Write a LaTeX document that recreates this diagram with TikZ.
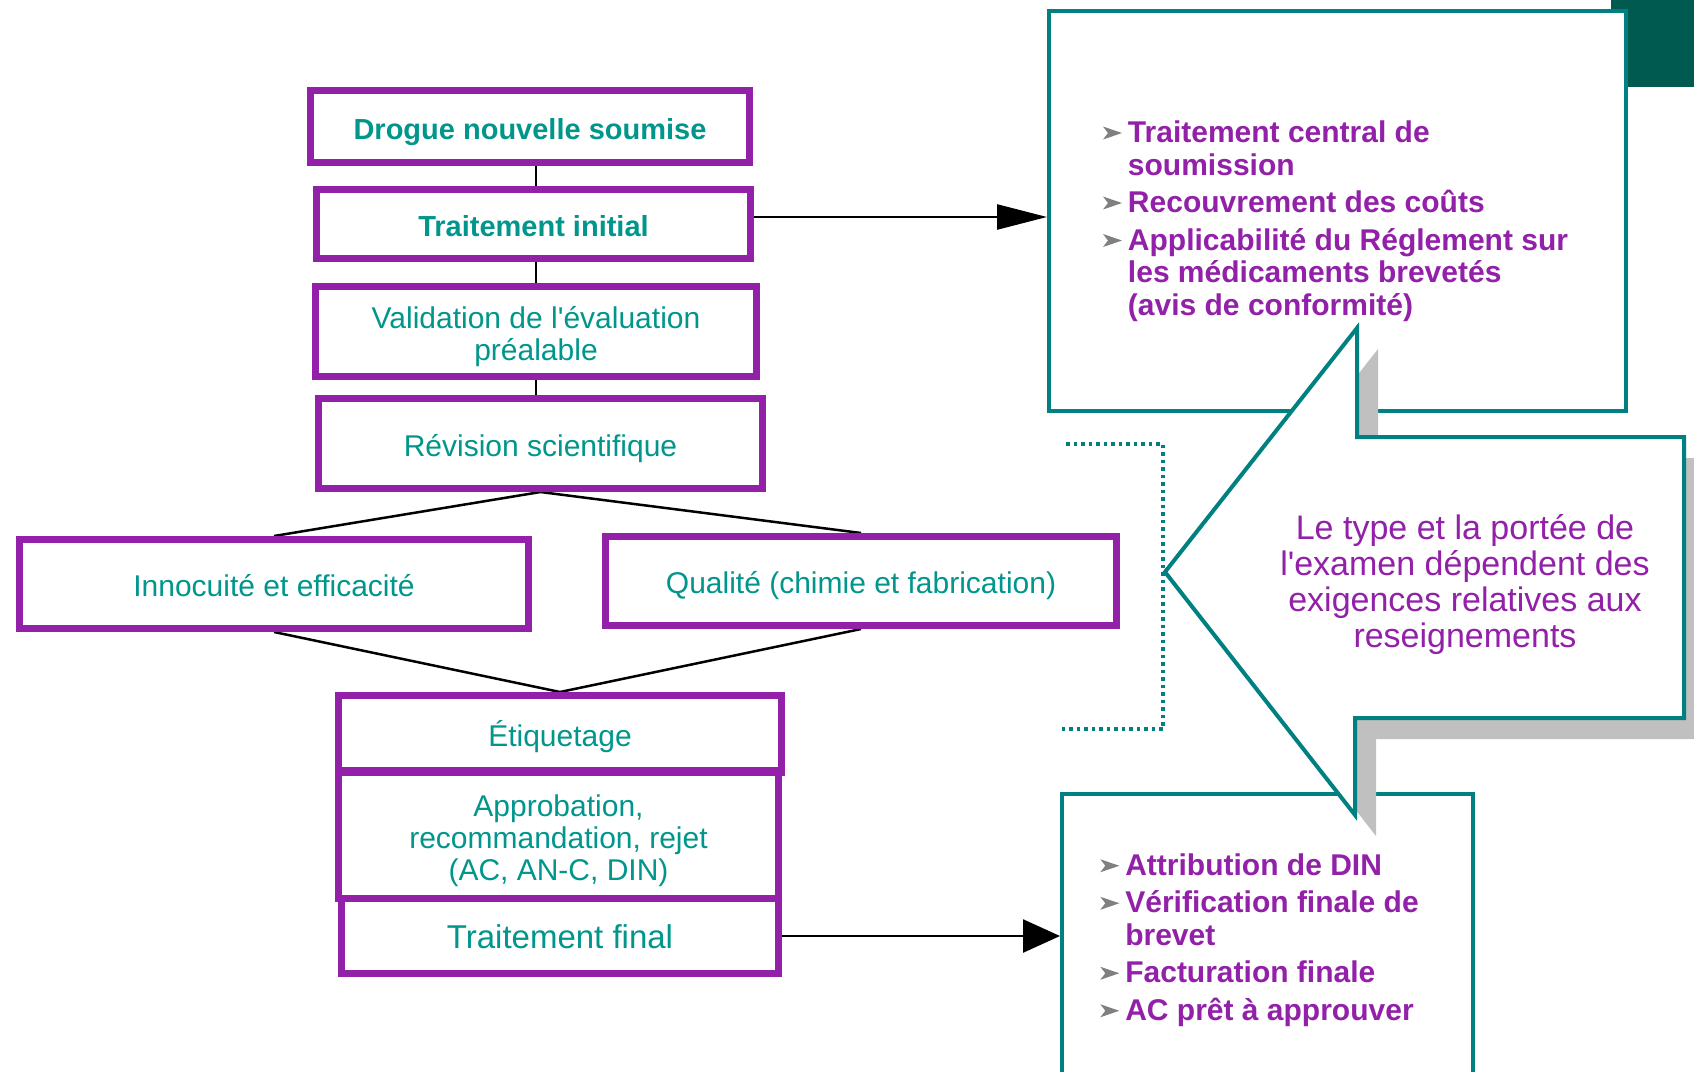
\documentclass[tikz,border=0pt]{standalone}
\usepackage{fontspec}
\setmainfont{Liberation Sans}[Ligatures=TeXOff]
\usetikzlibrary{arrows.meta, positioning, calc}

\definecolor{flowpurple}{RGB}{146,32,168}
\definecolor{flowteal}{RGB}{0,150,140}
\definecolor{boxteal}{RGB}{0,128,128}
\definecolor{darkteal}{RGB}{0,90,80}
\definecolor{shadowgray}{RGB}{192,192,192}
\definecolor{bulletgray}{RGB}{128,128,128}

\pgfdeclarelayer{background}
\pgfsetlayers{background,main}

\tikzset{
  stage/.style={draw=flowpurple, line width=7pt, text=flowteal, align=center,
    inner sep=0pt, font=\fontsize{30}{32}\selectfont},
  oneline/.style={text height=25pt, text depth=0pt},
  stagebold/.style={stage, oneline, font=\fontsize{29}{32}\selectfont\bfseries},
  infobox/.style={draw=boxteal, line width=4pt, fill=white},
  listtext/.style={text=flowpurple, align=left, inner sep=0pt,
    font=\fontsize{30}{32.5}\selectfont\bfseries},
  link/.style={line width=2.5pt, black},
}
% arrowhead bullet
\newcommand{\bul}{\makebox[25pt][l]{\tikz[baseline=-16pt]\fill[bulletgray] (0pt,0pt) -- (19pt,-6.5pt) -- (0pt,-13pt) -- (5pt,-6.5pt) -- cycle;}}
\newcommand{\ind}{\hspace*{25pt}}

\begin{document}
\begin{tikzpicture}[x=1pt, y=-1pt]
\useasboundingbox (0,0) rectangle (1694,1071);
\clip (0,0) rectangle (1694,1071);

% review stages
\node[stagebold, minimum width=439pt, minimum height=72pt] (submit) at (530,126.5) {Drogue nouvelle soumise};
\node[stagebold, minimum width=434pt, minimum height=69pt] (init) at (533.5,224) {Traitement initial};
\node[stage, minimum width=441pt, minimum height=90pt] (valid) at (536,331.5) {\rule{0pt}{32pt}Validation de l'évaluation\\préalable};
\node[stage, oneline, minimum width=444pt, minimum height=90pt] (rev) at (540.5,443.5) {Révision scientifique};
\node[stage, oneline, minimum width=509pt, minimum height=89pt] (safety) at (274,584) {Innocuité et efficacité};
\node[stage, oneline, minimum width=511pt, minimum height=89pt] (quality) at (861,581) {Qualité (chimie et fabrication)};
\node[stage, oneline, minimum width=443pt, minimum height=77pt] (label) at (560,734) {Étiquetage};
\node[stage, minimum width=440pt, minimum height=128pt] (decide) at (558.5,834.5) {\rule{0pt}{34pt}Approbation,\\recommandation, rejet\\(AC, AN-C, DIN)};
\node[stage, oneline, minimum width=437pt, minimum height=75pt, font=\fontsize{33}{34}\selectfont] (final) at (560,936) {Traitement final};

\begin{pgfonlayer}{background}
\fill[white] (0,0) rectangle (1694,1071);
\draw[link] (submit.south -| valid.south) -- (init.north -| valid.south);
\draw[link] (init.south -| valid.south) -- (valid.north);
\draw[link] (valid.south) -- (valid.south |- rev.north);
\draw[link] (rev.south) -- (safety.north);
\draw[link] (rev.south) -- (quality.north);
\draw[link] (safety.south) -- (label.north);
\draw[link] (quality.south) -- (label.north);
\end{pgfonlayer}

% side notes
\fill[darkteal] (1611,0) rectangle (1694,87);
\node[infobox, minimum width=577pt, minimum height=400pt] (central) at (1337.5,211) {};
\node[listtext] (centrallist) at ($(central.center)+(-2,10)$)
  {\bul Traitement central de\\\ind soumission\\[5pt]
   \bul Recouvrement des coûts\\[5pt]
   \bul Applicabilité du Réglement sur\\\ind les médicaments brevetés\\\ind (avis de conformité)};
\node[infobox, minimum width=411pt, minimum height=280pt] (closing) at (1267.5,934) {};
\node[listtext] (closinglist) at ($(closing.center)+(-8,6)$)
  {\bul Attribution de DIN\\[5pt]
   \bul Vérification finale de\\\ind brevet\\[5pt]
   \bul Facturation finale\\[5pt]
   \bul AC prêt à approuver};

\draw[link, -{Triangle[length=50pt, width=25pt]}] ([yshift=7pt]init.east) -- ([yshift=7pt]init.east -| central.west);
\draw[link, -{Triangle[length=37pt, width=33pt]}] (final.east) -- (final.east -| closing.west);

% dotted bracket
\draw[boxteal, line width=3.5pt, dash pattern=on 3.5pt off 4pt] (1066,444) -- (1163,444) -- (1163,729) -- (1062,729);

% block arrow with shadow
\fill[shadowgray, shift={(21,21)}] (1165,572) -- (1357,328) -- (1357,437) -- (1684,437) -- (1684,718) -- (1355,718) -- (1355,815) -- cycle;
\draw[boxteal, line width=4pt, fill=white] (1165,572) -- (1357,328) -- (1357,437) -- (1684,437) -- (1684,718) -- (1355,718) -- (1355,815) -- cycle;
\node[text=flowpurple, align=center, font=\fontsize{34}{36}\selectfont] (scopenote) at (1465,585)
  {Le type et la portée de\\l'examen dépendent des\\exigences relatives aux\\reseignements};
\end{tikzpicture}
\end{document}
